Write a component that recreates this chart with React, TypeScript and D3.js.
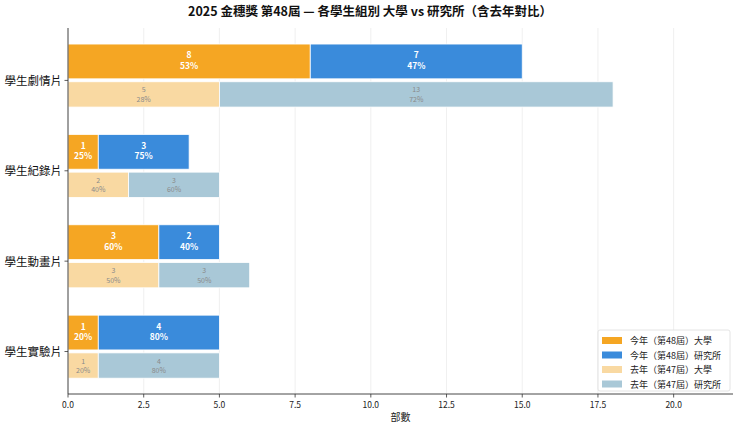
import * as d3 from 'd3';

const categories = ['學生劇情片', '學生紀錄片', '學生動畫片', '學生實驗片'];
const curUniv = [8, 1, 3, 1];
const curGrad = [7, 3, 2, 4];
const prevUniv = [5, 2, 3, 1];
const prevGrad = [13, 3, 3, 4];
const xTicks = [0, 2.5, 5, 7.5, 10, 12.5, 15, 17.5, 20];
const legendLabels = ['今年（第48屆）大學', '今年（第48屆）研究所', '去年（第47屆）大學', '去年（第47屆）研究所'];
const colors = ['#F5A623', '#3A8BDB', '#F9D9A2', '#A9C8D7'];

const W = 740;
const H = 430;
const margin = { top: 28, right: 7, bottom: 36, left: 68 };
const font = '"Noto Sans CJK TC", "Noto Sans", sans-serif';

export default function App() {
  const x = d3.scaleLinear().domain([0, 21.96]).range([margin.left, W - margin.right]);
  const y = d3.scaleLinear().domain([-0.58, 3.47]).range([margin.top, H - margin.bottom]);

  const curOff = -0.21, curH = 0.385;
  const prevOff = 0.155, prevH = 0.28;

  const pct = (a: number, b: number) => `${Math.round((a / (a + b)) * 100)}%`;

  const segs: { x0: number; x1: number; yc: number; h: number; color: string; val: number; p: string; cur: boolean }[] = [];
  categories.forEach((_, i) => {
    segs.push({ x0: 0, x1: curUniv[i], yc: i + curOff, h: curH, color: colors[0], val: curUniv[i], p: pct(curUniv[i], curGrad[i]), cur: true });
    segs.push({ x0: curUniv[i], x1: curUniv[i] + curGrad[i], yc: i + curOff, h: curH, color: colors[1], val: curGrad[i], p: pct(curGrad[i], curUniv[i]), cur: true });
    segs.push({ x0: 0, x1: prevUniv[i], yc: i + prevOff, h: prevH, color: colors[2], val: prevUniv[i], p: pct(prevUniv[i], prevGrad[i]), cur: false });
    segs.push({ x0: prevUniv[i], x1: prevUniv[i] + prevGrad[i], yc: i + prevOff, h: prevH, color: colors[3], val: prevGrad[i], p: pct(prevGrad[i], prevUniv[i]), cur: false });
  });

  const [x0, x1] = x.range();
  const [y0, y1] = y.range();

  return (
    <svg width={W} height={H} style={{ position: 'absolute', left: 0, top: 0, background: '#fff' }} fontFamily={font}>
      <text x={W / 2} y={16} textAnchor="middle" fontSize={12.5} fontWeight="bold" fill="#111">
        2025 金穗獎 第48屆 — 各學生組別 大學 vs 研究所（含去年對比）
      </text>
      {xTicks.map(t => (
        <line key={'g' + t} x1={x(t)} x2={x(t)} y1={y0} y2={y1} stroke="#ebebeb" strokeWidth={0.8} />
      ))}
      {segs.map((s, k) => {
        const top = y(s.yc - s.h / 2);
        const hh = y(s.yc + s.h / 2) - top;
        const cx = (x(s.x0) + x(s.x1)) / 2;
        const cy = y(s.yc);
        return (
          <g key={k}>
            <rect x={x(s.x0)} y={top} width={x(s.x1) - x(s.x0)} height={hh} fill={s.color} stroke="#fff" strokeWidth={0.8} />
            {s.cur ? (
              <g textAnchor="middle" fontSize={8.5} fontWeight="bold" fill="#fff">
                <text x={cx} y={cy - 3}>{s.val}</text>
                <text x={cx} y={cy + 7.5}>{s.p}</text>
              </g>
            ) : (
              <g textAnchor="middle" fontSize={7} fill="#8a8a8a">
                <text x={cx} y={cy - 2}>{s.val}</text>
                <text x={cx} y={cy + 7.5}>{s.p}</text>
              </g>
            )}
          </g>
        );
      })}
      <line x1={x0} x2={x0} y1={y0} y2={y1} stroke="#333" strokeWidth={0.9} />
      <line x1={x0} x2={x1} y1={y1} y2={y1} stroke="#333" strokeWidth={0.9} />
      {xTicks.map(t => (
        <g key={'t' + t}>
          <line x1={x(t)} x2={x(t)} y1={y1} y2={y1 + 3.5} stroke="#333" strokeWidth={0.8} />
          <text x={x(t)} y={y1 + 14} textAnchor="middle" fontSize={8.5} fill="#222">{t.toFixed(1)}</text>
        </g>
      ))}
      <text x={(x0 + x1) / 2} y={H - 9} textAnchor="middle" fontSize={10} fill="#222">部數</text>
      {categories.map((c, i) => (
        <g key={c}>
          <line x1={x0 - 3.5} x2={x0} y1={y(i)} y2={y(i)} stroke="#333" strokeWidth={0.8} />
          <text x={x0 - 6} y={y(i) + 4.5} textAnchor="end" fontSize={11.5} fill="#111">{c}</text>
        </g>
      ))}
      <g transform={`translate(${W - 142},${330})`}>
        <rect x={0} y={0} width={132} height={61} rx={2} fill="#fff" fillOpacity={0.85} stroke="#ddd" strokeWidth={0.8} />
        {legendLabels.map((l, i) => (
          <g key={l} transform={`translate(0,${7 + i * 14.5})`}>
            <rect x={4} y={0} width={20} height={7} fill={colors[i]} />
            <text x={32} y={7} fontSize={9} fill="#222">{l}</text>
          </g>
        ))}
      </g>
    </svg>
  );
}
